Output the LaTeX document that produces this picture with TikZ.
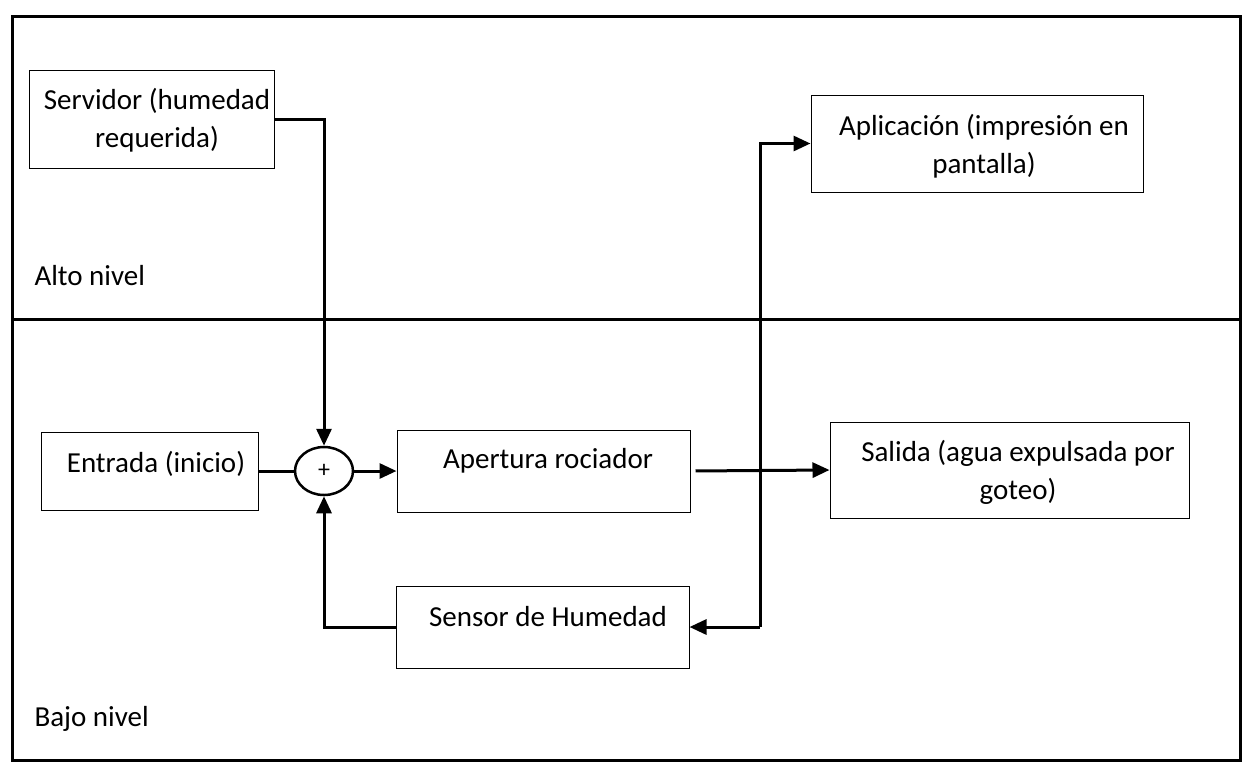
\documentclass[tikz,border=0pt]{standalone}
\usepackage{fontspec}
\setmainfont{Carlito}
\usetikzlibrary{arrows.meta,shapes.geometric}
\begin{document}
\begin{tikzpicture}[x=1pt,y=-1pt,
  every node/.style={font=\fontsize{29}{38}\selectfont},
  blk/.style={draw,line width=1pt,inner sep=0pt},
  txt/.style={align=center,inner sep=0pt},
  conn/.style={line width=3pt},
  arr/.style={conn,-{Triangle[length=17pt,width=15pt]}},
  frame/.style={line width=3pt}]
\useasboundingbox (0,0) rectangle (1252,772);
% frame
\draw[frame] (12,16) rectangle (1240,760);
\draw[frame] (12,319) -- (1240,319);
% labels
\node[anchor=west] (alto) at (31,276) {Alto nivel};
\node[anchor=west] (bajo) at (31,719) {Bajo nivel};
% blocks
\node[blk,minimum width=245pt,minimum height=98pt] (serv) at (151.5,119) {};
\node[txt] (servt) at (157,120) {Servidor (humedad\\requerida)};
\node[blk,minimum width=332pt,minimum height=97pt] (app) at (977,143.5) {};
\node[txt] (appt) at (984,146) {Aplicación (impresión en\\pantalla)};
\node[blk,minimum width=217pt,minimum height=78pt] (ent) at (149.5,471) {};
\node[txt] (entt) at (156,464) {Entrada (inicio)};
\node[draw,ellipse,line width=2.5pt,minimum width=58pt,minimum height=48pt,inner sep=0pt,font=\fontsize{24}{28}\selectfont] (sum) at (324,471) {+};
\node[blk,minimum width=293pt,minimum height=82pt] (ap) at (543.5,471) {};
\node[txt] (apt) at (548,461) {Apertura rociador};
\node[blk,minimum width=359pt,minimum height=96pt] (sal) at (1009.5,470) {};
\node[txt] (salt) at (1018,472) {Salida (agua expulsada por\\goteo)};
\node[blk,minimum width=293pt,minimum height=82pt] (sen) at (542.5,627) {};
\node[txt] (sent) at (548,617) {Sensor de Humedad};
% connectors
\draw[arr] (serv.east) -| (sum.north);
\draw[conn] (ent.east) -- (sum.west);
\draw[arr] (sum.east) -- (ap.west);
\draw[arr] (sen.west) -| (sum.south);
\draw[arr,shorten <=5pt] (ap.east) -- (sal.west);
\coordinate (j) at (760,627);
\draw[arr] (j) -- (sen.east);
\draw[arr] (j) |- (app.west);
\end{tikzpicture}
\end{document}
